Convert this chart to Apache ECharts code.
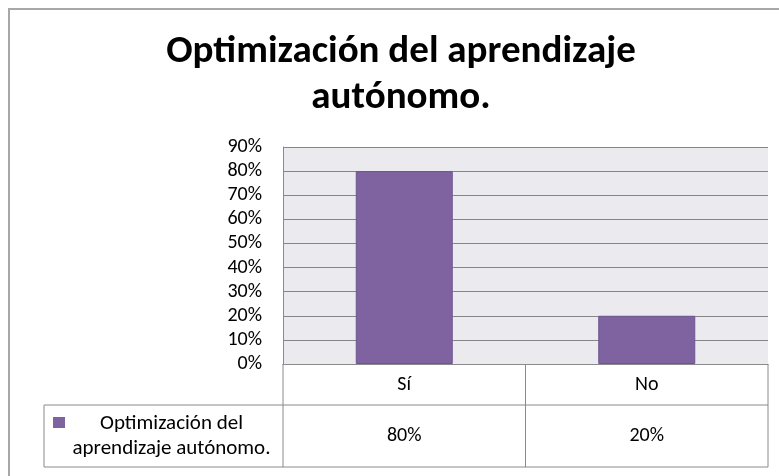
<!DOCTYPE html>
<html>
<head>
<meta charset="utf-8">
<script src="https://cdn.jsdelivr.net/npm/echarts@6/dist/echarts.min.js"></script>
<style>
html,body{margin:0;padding:0;background:#fff;}
#c{width:779px;height:476px;}
</style>
</head>
<body>
<div id="c"></div>
<script>
const titleText = 'Optimización del aprendizaje\nautónomo.';
const categories = ['Sí', 'No'];
const seriesName = 'Optimización del aprendizaje autónomo.';
const values = [0.80, 0.20];
const yMin = 0, yMax = 0.9, yStep = 0.1;

const FONT = 'Carlito, Calibri, "Open Sans", sans-serif';
const pct = v => Math.round(v * 100) + '%';

const chart = echarts.init(document.getElementById('c'), null, {renderer: 'canvas'});
chart.setOption({
  animation: false,
  backgroundColor: '#fff',
  title: {
    text: titleText,
    left: 396, top: 24, textAlign: 'center',
    textStyle: {fontFamily: FONT, fontSize: 39, fontWeight: 'bold', color: '#000', lineHeight: 46}
  },
  grid: {left: 283, right: 11, top: 147, bottom: 112, show: true, backgroundColor: '#EBEAEF', borderWidth: 0},
  xAxis: {
    type: 'category', data: categories,
    axisLine: {show: true, lineStyle: {color: '#8a8a8a', width: 1}},
    axisTick: {show: false},
    axisLabel: {margin: 11, fontFamily: FONT, fontSize: 20, color: '#000'}
  },
  yAxis: {
    type: 'value', min: yMin, max: yMax, interval: yStep,
    axisLine: {show: true, lineStyle: {color: '#8a8a8a', width: 1}},
    axisTick: {show: false},
    splitLine: {show: true, lineStyle: {color: '#868686', width: 1}},
    axisLabel: {formatter: pct, margin: 21, fontFamily: FONT, fontSize: 20, color: '#000'}
  },
  series: [{
    type: 'bar', name: seriesName, data: values, barWidth: '40%',
    itemStyle: {color: '#7F63A1', borderColor: '#6E5590', borderWidth: 1}
  }]
});

// Data table and frame, positioned from the axes
const y0 = chart.convertToPixel({yAxisIndex: 0}, 0);
const cx = categories.map((c, i) => chart.convertToPixel({xAxisIndex: 0}, i));
const band = cx[1] - cx[0];
const xl = cx[0] - band / 2, xr = cx[cx.length - 1] + band / 2;
const rowH1 = 41, rowH2 = 62;
const yRow = y0 + rowH1, yBot = yRow + rowH2;
const legLeft = 44;
const lc = '#8a8a8a';
const line = (x1, y1, x2, y2) => ({type: 'line', shape: {x1, y1, x2, y2}, style: {stroke: lc, lineWidth: 1}, silent: true});
const g = [];
g.push({type: 'rect', shape: {x: 9, y: 9, width: 820, height: 520}, style: {fill: null, stroke: '#a8a8a8', lineWidth: 2}, silent: true});
g.push(line(xl, y0, xl, yBot));
for (let i = 0; i < categories.length; i++) g.push(line(xl + band * (i + 1), y0, xl + band * (i + 1), yBot));
g.push(line(legLeft, yRow, xr, yRow));
g.push(line(legLeft, yBot, xr, yBot));
g.push(line(legLeft, yRow, legLeft, yBot));
g.push({type: 'rect', shape: {x: legLeft + 9, y: yRow + 12, width: 12, height: 11}, style: {fill: '#7F63A1'}, silent: true});
const words = seriesName.split(' ');
g.push({type: 'text', x: (legLeft + xl) / 2 + 8, y: (yRow + yBot) / 2,
  style: {text: words.slice(0, 2).join(' ') + '\n' + words.slice(2).join(' '), fontFamily: FONT, fontSize: 21, fill: '#000', align: 'center', verticalAlign: 'middle', lineHeight: 25}, silent: true});
values.forEach((v, i) => {
  g.push({type: 'text', x: cx[i], y: (yRow + yBot) / 2, style: {text: pct(v), fontFamily: FONT, fontSize: 20, fill: '#000', align: 'center', verticalAlign: 'middle'}, silent: true});
});
chart.setOption({graphic: g});
</script>
</body>
</html>
